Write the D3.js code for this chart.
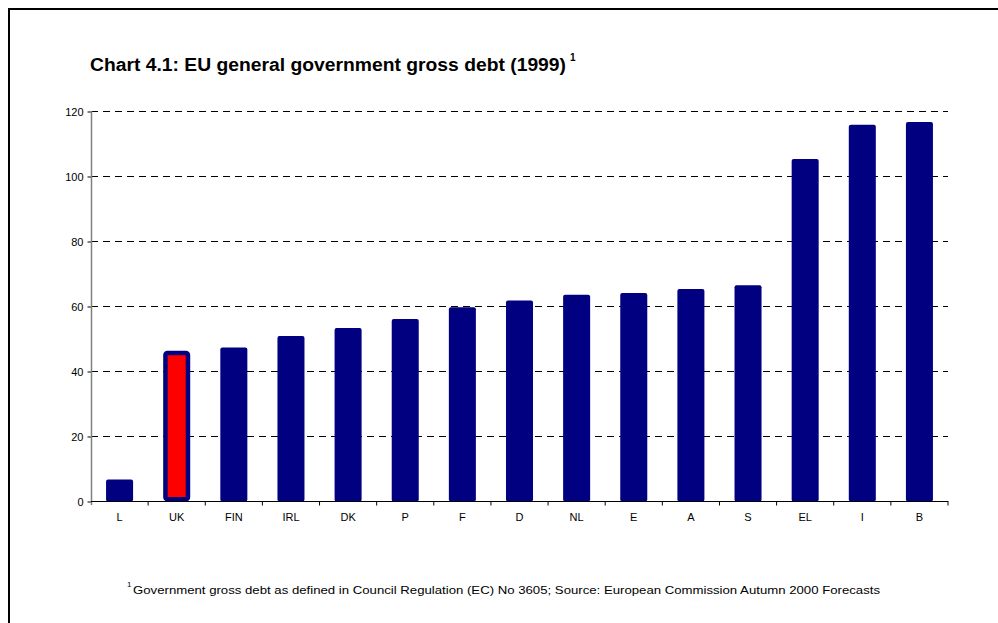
<!DOCTYPE html>
<html>
<head>
<meta charset="utf-8">
<script src="https://cdn.jsdelivr.net/npm/d3@7"></script>
<style>
  html, body { margin: 0; padding: 0; background: #fff; }
  svg { display: block; font-family: "Liberation Sans", Arial, sans-serif; }
</style>
</head>
<body>
<svg id="chart" width="998" height="623"></svg>
<script>
// Member states, ordered by 1999 gross debt (% of GDP)
const countries = ["L", "UK", "FIN", "IRL", "DK", "P", "F", "D", "NL", "E", "A", "S", "EL", "I", "B"];
const debt = [6.6, 46.2, 47.2, 50.8, 53.2, 56.0, 59.6, 61.7, 63.5, 64.0, 65.2, 66.4, 105.2, 115.8, 116.6];
const highlighted = ["UK"];
const yTicks = [0, 20, 40, 60, 80, 100, 120];

(function draw() {
  const svg = d3.select("#chart");
  const plotLeft = 91, plotRight = 948, plotTop = 111, plotBottom = 501;
  const navy = "#000080";

  // Frame lines along the top and left edges
  svg.append("line").attr("x1", 9).attr("x2", 998).attr("y1", 9).attr("y2", 9)
    .attr("stroke", "#000").attr("stroke-width", 2);
  svg.append("line").attr("x1", 9).attr("x2", 9).attr("y1", 8).attr("y2", 623)
    .attr("stroke", "#000").attr("stroke-width", 2);

  // Title
  svg.append("text")
    .attr("x", 90).attr("y", 71)
    .attr("font-size", 18).attr("font-weight", "bold")
    .attr("textLength", 476).attr("lengthAdjust", "spacingAndGlyphs")
    .text("Chart 4.1: EU general government gross debt (1999)");
  svg.append("text")
    .attr("x", 570).attr("y", 61)
    .attr("font-size", 10).attr("font-weight", "bold")
    .text("1");

  const x = d3.scaleBand().domain(countries).range([plotLeft, plotRight])
    .paddingInner(0.527).paddingOuter(0.2635);
  const step = x.step();
  const y = d3.scaleLinear().domain([0, 120]).range([plotBottom, plotTop]);

  // Dashed gridlines
  svg.append("g").selectAll("line")
    .data(yTicks.filter(d => d > 0))
    .join("line")
    .attr("x1", plotLeft).attr("x2", plotRight)
    .attr("y1", d => y(d) + 0.5).attr("y2", d => y(d) + 0.5)
    .attr("stroke", "#000").attr("stroke-width", 1)
    .attr("stroke-dasharray", "7,5");

  // Y axis
  const yAxis = d3.axisLeft(y).tickValues(yTicks).tickSize(4).tickPadding(4);
  const gy = svg.append("g").attr("transform", `translate(${plotLeft + 0.5},0.5)`).call(yAxis);
  gy.select(".domain").remove();
  gy.selectAll(".tick line").attr("stroke", "#000");
  gy.selectAll(".tick text").attr("font-size", 11).attr("fill", "#000")
    .attr("font-family", "Liberation Sans, Arial, sans-serif");
  svg.append("line")
    .attr("x1", plotLeft + 0.5).attr("x2", plotLeft + 0.5)
    .attr("y1", plotTop).attr("y2", plotBottom + 4)
    .attr("stroke", "#808080").attr("stroke-width", 1.5);

  // Bars
  svg.append("g").selectAll("rect")
    .data(countries.map((c, i) => ({ c, v: debt[i] })))
    .join("rect")
    .each(function (d) {
      const r = d3.select(this);
      const hl = highlighted.includes(d.c);
      const inset = hl ? 2.25 : 0;
      r.attr("x", x(d.c) + inset)
       .attr("y", y(d.v) + inset)
       .attr("width", x.bandwidth() - 2 * inset)
       .attr("height", plotBottom - y(d.v) - 2 * inset + 0.5)
       .attr("rx", 2)
       .attr("fill", hl ? "#ff0000" : navy)
       .attr("stroke", hl ? navy : "none")
       .attr("stroke-width", hl ? 4.5 : 0);
    });

  // X axis baseline with ticks between categories
  svg.append("line")
    .attr("x1", plotLeft).attr("x2", plotRight)
    .attr("y1", plotBottom + 0.5).attr("y2", plotBottom + 0.5)
    .attr("stroke", "#000").attr("stroke-width", 1);
  const boundaries = d3.range(countries.length + 1).map(i => plotLeft + i * step);
  svg.append("g").selectAll("line")
    .data(boundaries.slice(1))
    .join("line")
    .attr("x1", d => d).attr("x2", d => d)
    .attr("y1", plotBottom).attr("y2", plotBottom + 4.5)
    .attr("stroke", "#000").attr("stroke-width", 1);

  svg.append("g").selectAll("text")
    .data(countries)
    .join("text")
    .attr("x", d => x(d) + x.bandwidth() / 2)
    .attr("y", 521)
    .attr("text-anchor", "middle")
    .attr("font-size", 11)
    .text(d => d);

  // Footnote
  svg.append("text")
    .attr("x", 127).attr("y", 587)
    .attr("font-size", 8)
    .text("1");
  svg.append("text")
    .attr("x", 133).attr("y", 594)
    .attr("font-size", 11.5)
    .attr("textLength", 747).attr("lengthAdjust", "spacingAndGlyphs")
    .text("Government gross debt as defined in Council Regulation (EC) No 3605; Source: European Commission Autumn 2000 Forecasts");
})();
</script>
</body>
</html>
